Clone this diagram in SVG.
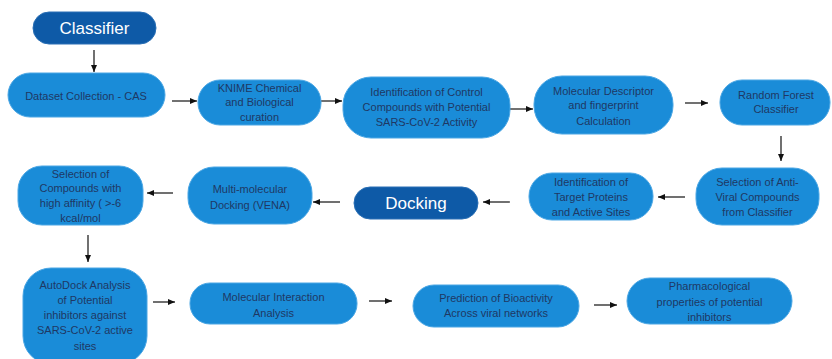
<svg xmlns="http://www.w3.org/2000/svg" width="832" height="359" viewBox="0 0 832 359">
<defs>
<marker id="ah" markerWidth="7" markerHeight="6" refX="7" refY="3" orient="auto" markerUnits="userSpaceOnUse">
<path d="M0,0 L7,3 L0,6 z" fill="#111"/>
</marker>
<style>
.n{fill:#1a8cd8;stroke:#4aa6e4;stroke-width:1}
.h{fill:#0e5aa7;stroke:#2a6fb5;stroke-width:1}
.t{font-family:"Liberation Sans",Arial,sans-serif;font-size:11px;fill:#1f3864;text-anchor:middle}
.ht{font-family:"Liberation Sans",Arial,sans-serif;font-size:17px;fill:#ffffff;text-anchor:middle}
.c line{stroke:#111;stroke-width:1.2;marker-end:url(#ah)}
</style>
</defs>
<rect width="832" height="359" fill="#ffffff"/>
<g class="c" id="connectors">
<line x1="94" y1="50" x2="94" y2="72"/>
<line x1="172" y1="101" x2="197" y2="101"/>
<line x1="321" y1="101" x2="342" y2="101"/>
<line x1="510" y1="109" x2="533" y2="109"/>
<line x1="685" y1="103" x2="708" y2="103"/>
<line x1="781" y1="136" x2="781" y2="161"/>
<line x1="685" y1="197" x2="658" y2="197"/>
<line x1="510" y1="202" x2="483" y2="202"/>
<line x1="340" y1="202" x2="313" y2="202"/>
<line x1="173" y1="193" x2="147" y2="193"/>
<line x1="88" y1="235" x2="88" y2="262"/>
<line x1="153" y1="302" x2="175" y2="302"/>
<line x1="369" y1="301" x2="392" y2="301"/>
<line x1="594" y1="305" x2="617" y2="305"/>
</g>
<g id="classifier"><rect class="h" x="33" y="12" width="123" height="32" rx="16"/><text class="ht" x="94.5" y="34">Classifier</text></g>
<g id="dataset"><rect class="n" x="8" y="73" width="157" height="44" rx="22"/><text class="t" x="86" y="100">Dataset Collection - CAS</text></g>
<g id="knime"><rect class="n" x="198" y="80" width="123" height="45" rx="22"/><text class="t" x="259.5" y="92">KNIME Chemical</text><text class="t" x="259.5" y="106">and Biological</text><text class="t" x="259.5" y="121">curation</text></g>
<g id="control"><rect class="n" x="343" y="77" width="167" height="61" rx="28"/><text class="t" x="426.5" y="96">Identification of Control</text><text class="t" x="426.5" y="111">Compounds  with Potential</text><text class="t" x="426.5" y="126">SARS-CoV-2 Activity</text></g>
<g id="descriptor"><rect class="n" x="534" y="76" width="139" height="58" rx="28"/><text class="t" x="603.5" y="95">Molecular Descriptor</text><text class="t" x="603.5" y="109">and fingerprint</text><text class="t" x="603.5" y="125">Calculation</text></g>
<g id="randomforest"><rect class="n" x="720" y="80" width="110" height="45" rx="22"/><text class="t" x="776" y="99">Random Forest</text><text class="t" x="776" y="113">Classifier</text></g>
<g id="antiviral"><rect class="n" x="696" y="168" width="123" height="57" rx="26"/><text class="t" x="757.5" y="186">Selection of Anti-</text><text class="t" x="757.5" y="201">Viral Compounds</text><text class="t" x="757.5" y="216">from Classifier</text></g>
<g id="targets"><rect class="n" x="529" y="173" width="124" height="47" rx="23"/><text class="t" x="591" y="186">Identification of</text><text class="t" x="591" y="201">Target Proteins</text><text class="t" x="591" y="216">and Active Sites</text></g>
<g id="docking"><rect class="h" x="354" y="187" width="124" height="32" rx="16"/><text class="ht" x="416" y="209">Docking</text></g>
<g id="multi"><rect class="n" x="188" y="167" width="124" height="57" rx="26"/><text class="t" x="250" y="193">Multi-molecular</text><text class="t" x="250" y="209">Docking (VENA)</text></g>
<g id="affinity"><rect class="n" x="18" y="166" width="125" height="59" rx="24"/><text class="t" x="80.5" y="178">Selection of</text><text class="t" x="80.5" y="192">Compounds  with</text><text class="t" x="80.5" y="207">high affinity ( &gt;-6</text><text class="t" x="80.5" y="222">kcal/mol</text></g>
<g id="autodock"><rect class="n" x="23" y="268" width="124" height="96" rx="28"/><text class="t" x="85" y="289">AutoDock  Analysis</text><text class="t" x="85" y="304">of Potential</text><text class="t" x="85" y="319">inhibitors against</text><text class="t" x="85" y="334">SARS-CoV-2 active</text><text class="t" x="85" y="350">sites</text></g>
<g id="interaction"><rect class="n" x="190" y="283" width="167" height="41" rx="20"/><text class="t" x="273.5" y="301">Molecular Interaction</text><text class="t" x="273.5" y="317">Analysis</text></g>
<g id="bioactivity"><rect class="n" x="413" y="285" width="166" height="42" rx="21"/><text class="t" x="496" y="302">Prediction of Bioactivity</text><text class="t" x="496" y="317">Across viral networks</text></g>
<g id="pharma"><rect class="n" x="627" y="278" width="165" height="46" rx="23"/><text class="t" x="709.5" y="290">Pharmacological</text><text class="t" x="709.5" y="306">properties of potential</text><text class="t" x="709.5" y="321">inhibitors</text></g>
</svg>
